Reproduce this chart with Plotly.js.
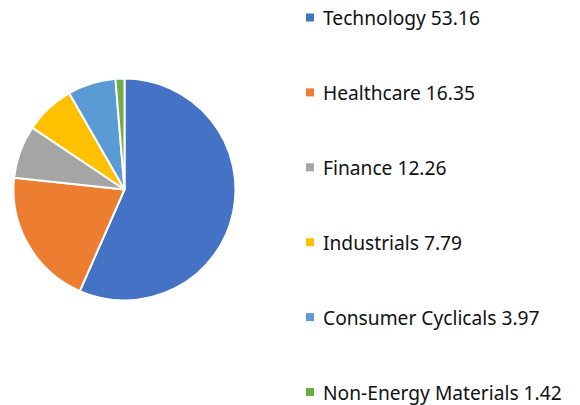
<!DOCTYPE html>
<html><head><meta charset="utf-8">
<script src="https://cdn.plot.ly/plotly-3.0.1.min.js"></script>
<style>html,body{margin:0;padding:0;background:#fff}</style>
</head><body><div id="chart" style="width:580px;height:405px"></div>
<script>
// Categories and legend values as shown
const categories = ["Technology", "Healthcare", "Finance", "Industrials", "Consumer Cyclicals", "Non-Energy Materials"];
const legendValues = [53.16, 16.35, 12.26, 7.79, 3.97, 1.42];
// Slice shares (percent)
const sliceShares = [56.6, 20.1, 7.7, 7.3, 7.0, 1.3];
const colors = ["#4472C4", "#ED7D31", "#A5A5A5", "#FFC000", "#5B9BD5", "#70AD47"];

const trace = {
  type: "pie",
  labels: categories,
  values: sliceShares,
  sort: false,
  direction: "clockwise",
  rotation: 0,
  textinfo: "none",
  hoverinfo: "label+value",
  marker: {colors: colors, line: {color: "#ffffff", width: 2}},
  domain: {x: [13.5/580, 235.5/580], y: [(405-300.5)/405, (405-78.5)/405]},
  showlegend: false
};

const shapes = [], annotations = [];
const legendTop = 17.5, legendStep = 74.9;
categories.forEach((c, i) => {
  const yc = legendTop + i*legendStep;
  shapes.push({type: "rect", xref: "paper", yref: "paper",
    x0: 306/580, x1: 314/580, y0: 1-(yc+4)/405, y1: 1-(yc-4)/405,
    fillcolor: colors[i], line: {width: 0}});
  annotations.push({xref: "paper", yref: "paper", x: 321.5/580, y: 1-yc/405,
    xanchor: "left", yanchor: "middle", showarrow: false, borderpad: 0,
    text: c + " " + legendValues[i].toFixed(2),
    font: {family: "Noto Sans, Open Sans, sans-serif", size: 19.2, color: "#111111"}});
});

Plotly.newPlot("chart", [trace], {
  width: 580, height: 405,
  margin: {l: 0, r: 0, t: 0, b: 0},
  paper_bgcolor: "#ffffff",
  shapes: shapes, annotations: annotations
}, {staticPlot: true});
</script></body></html>
